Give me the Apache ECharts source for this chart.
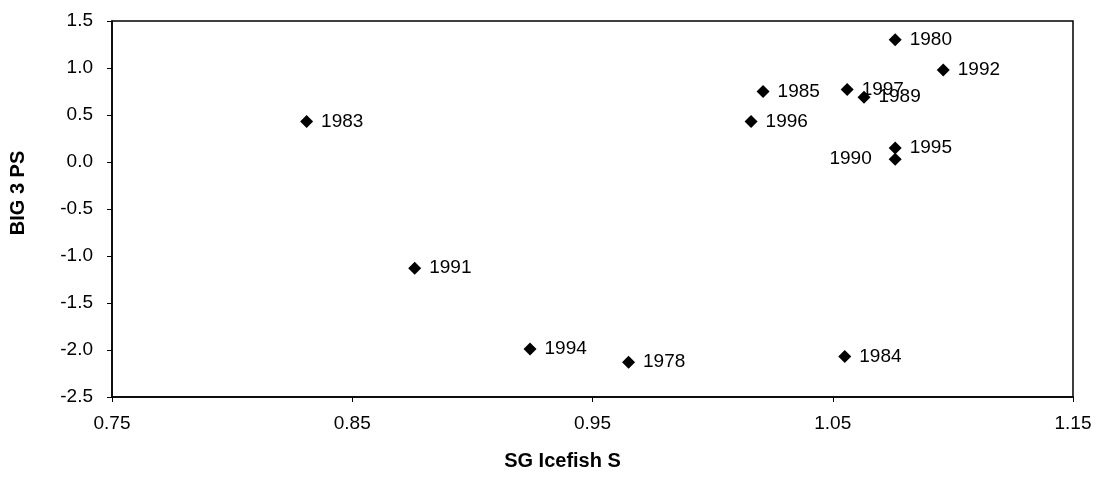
<!DOCTYPE html>
<html>
<head>
<meta charset="utf-8">
<script src="https://cdn.jsdelivr.net/npm/echarts@6/dist/echarts.min.js"></script>
<style>
html,body{margin:0;padding:0;background:#fff;}
#chart{width:1098px;height:488px;}
</style>
</head>
<body>
<div id="chart"></div>
<script>
// Data
const years = ['1983','1991','1994','1978','1984','1996','1985','1997','1989','1980','1992','1995','1990'];
const icefishS = [0.831, 0.876, 0.924, 0.965, 1.055, 1.016, 1.021, 1.056, 1.063, 1.076, 1.096, 1.076, 1.076];
const big3PS = [0.43, -1.13, -1.99, -2.13, -2.07, 0.43, 0.75, 0.77, 0.69, 1.30, 0.98, 0.15, 0.03];
const xTicks = [0.75, 0.85, 0.95, 1.05, 1.15];
const leftLabelYears = ['1990'];

const FONT = '"Liberation Sans", Arial, sans-serif';
const points = years.map((y, i) => {
  const item = { value: [icefishS[i], big3PS[i]], name: y };
  if (leftLabelYears.includes(y)) {
    item.label = { position: 'left', distance: 17, offset: [0, -7] };
  }
  return item;
});

const chart = echarts.init(document.getElementById('chart'));
chart.setOption({
  backgroundColor: '#fff',
  animation: false,
  grid: {
    left: 109, right: 25, top: 21, bottom: 91,
    show: true, borderColor: '#000', borderWidth: 1.5, backgroundColor: 'transparent'
  },
  xAxis: {
    type: 'value',
    min: 0.75, max: 1.15,
    name: 'SG Icefish S',
    nameLocation: 'middle',
    nameGap: 54,
    nameTextStyle: { fontFamily: FONT, fontWeight: 'bold', fontSize: 20, color: '#000', padding: [0, 60, 0, 0] },
    axisLine: { show: true, onZero: false, lineStyle: { color: '#000', width: 1.5 } },
    axisTick: { show: true, inside: false, length: 5, customValues: xTicks, lineStyle: { color: '#000', width: 1 } },
    axisLabel: { customValues: xTicks, margin: 17, fontFamily: FONT, fontSize: 19, color: '#000', formatter: v => v.toFixed(2) },
    splitLine: { show: false }
  },
  yAxis: {
    type: 'value',
    min: -2.5, max: 1.5, interval: 0.5,
    name: 'BIG 3 PS',
    nameLocation: 'middle',
    nameRotate: 90,
    nameGap: 84,
    nameTextStyle: { fontFamily: FONT, fontWeight: 'bold', fontSize: 20, color: '#000', padding: [0, 0, 0, 32] },
    axisLine: { show: true, onZero: false, lineStyle: { color: '#000', width: 1.5 } },
    axisTick: { show: true, inside: false, length: 5, lineStyle: { color: '#000', width: 1 } },
    axisLabel: { margin: 19, fontFamily: FONT, fontSize: 19, color: '#000', formatter: v => v.toFixed(1) },
    splitLine: { show: false }
  },
  series: [{
    type: 'scatter',
    symbol: 'diamond',
    symbolSize: 13,
    itemStyle: { color: '#000', opacity: 1 },
    data: points,
    label: {
      show: true,
      position: 'right',
      distance: 8,
      offset: [0, -5],
      formatter: p => p.name,
      fontFamily: FONT,
      fontSize: 19,
      color: '#000'
    },
    labelLayout: { hideOverlap: false }
  }]
});
</script>
</body>
</html>
